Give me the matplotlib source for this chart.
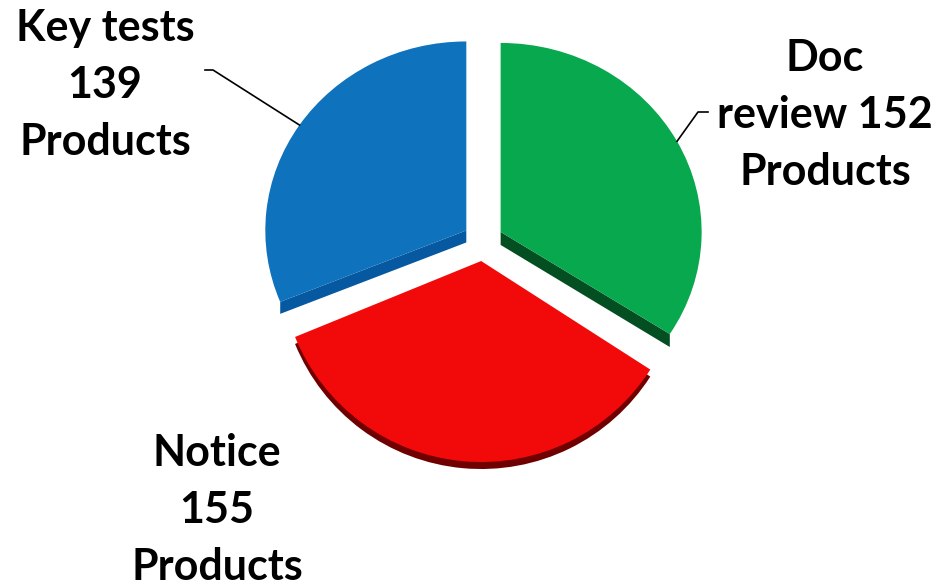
import numpy as np
import matplotlib
matplotlib.use('Agg')
import matplotlib.pyplot as plt
from matplotlib.transforms import Affine2D

# data
labels = ['Doc\nreview 152\nProducts', 'Notice\n155\nProducts', 'Key tests\n139\nProducts']
values = [152, 155, 139]
colors = ['#08A84F', '#F20A0A', '#0E72BC']
side_colors = ['#044F22', '#700000', '#0659A0']

W, H = 941, 588
fig = plt.figure(figsize=(W / 100, H / 100), dpi=100)
ax = fig.add_axes([0, 0, 1, 1])

# tilted pie: front slice looks a bit taller (perspective)
cx, cy = 483, H - 241
rx = 201
ry = [189, 201, 189]
depth = [13, 7, 12]
front = 1  # slice whose rim is seen from the front


def slice_tf(i, dy=0):
    return Affine2D().scale(rx, ry[i]).translate(cx, cy - dy)


wedges, _ = ax.pie(values, startangle=90, counterclock=False, explode=[0.1] * 3,
                   colors=colors, wedgeprops=dict(linewidth=0, zorder=2))
for i, w in enumerate(wedges):
    w.set_transform(slice_tf(i) + ax.transData)
    if i == front:
        # rim: darker copy pushed down
        sh, _ = ax.pie([values[i]], radius=1, wedgeprops=dict(linewidth=0, zorder=1))
        sh[0].set_center(w.center)
        sh[0].set_theta1(w.theta1)
        sh[0].set_theta2(w.theta2)
        sh[0].set_facecolor(side_colors[i])
        sh[0].set_transform(slice_tf(i, depth[i]) + ax.transData)
    else:
        # cut face on the lower straight edge
        a = min(w.theta1, w.theta2, key=lambda t: np.sin(np.deg2rad(t)))
        a = np.deg2rad(a)
        tf = slice_tf(i)
        tip = tf.transform(w.center)
        corner = tf.transform((w.center[0] + np.cos(a), w.center[1] + np.sin(a)))
        d = depth[i]
        ax.fill([tip[0], corner[0], corner[0], tip[0]],
                [tip[1], corner[1], corner[1] - d, tip[1] - d],
                color=side_colors[i], linewidth=0, zorder=1)

font = dict(family=['Lato', 'DejaVu Sans'], fontweight='bold', fontsize=31,
            ha='center', va='center', linespacing=1.52, color='black')

# label block centres and leader line elbows
text_pos = [(825, H - 115), (217, H - 510), (105, H - 85)]
elbows = [[(698, H - 112), (708, H - 112)], None, [(213, H - 70), (205, H - 70)]]

for i, (w, lab, tp, el) in enumerate(zip(wedges, labels, text_pos, elbows)):
    ax.text(tp[0], tp[1], lab, **font)
    if el is None:
        continue
    mid = np.deg2rad((w.theta1 + w.theta2) / 2)
    edge = (w.center[0] + np.cos(mid), w.center[1] + np.sin(mid))
    px, py = slice_tf(i).transform(edge)
    xs = [px] + [e[0] for e in el]
    ys = [py] + [e[1] for e in el]
    ax.plot(xs, ys, color='black', linewidth=1.2, zorder=3)

ax.set_xlim(0, W)
ax.set_ylim(0, H)
ax.set_aspect('auto')
ax.axis('off')

fig.savefig('out.png', dpi=100, facecolor='white')
